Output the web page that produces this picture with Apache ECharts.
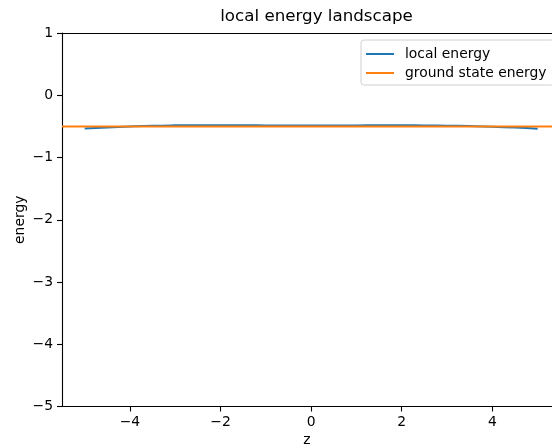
<!DOCTYPE html>
<html>
<head>
<meta charset="utf-8">
<script src="https://cdn.jsdelivr.net/npm/echarts@6/dist/echarts.min.js"></script>
<style>
  html, body { margin: 0; padding: 0; background: #fff; }
  #chart { width: 552px; height: 448px; }
</style>
</head>
<body>
<div id="chart"></div>
<script>
// Positions along z where the local energy was sampled
const zValues = [-5, -4.5, -4, -3.5, -3, -2.5, -2, -1.5, -1, -0.5, 0, 0.5, 1, 1.5, 2, 2.5, 3, 3.5, 4, 4.5, 5];
// Local energy at each z
const localEnergy = [-0.535, -0.52, -0.503, -0.49, -0.483, -0.48, -0.48, -0.482, -0.485, -0.487, -0.487, -0.486, -0.484, -0.482, -0.482, -0.484, -0.488, -0.495, -0.505, -0.52, -0.54];
// Ground state energy, constant across the axis
const groundZ = [-5.5, 5.5];
const groundEnergy = -0.5;
// Tick values
const xTicks = [-4, -2, 0, 2, 4];

const fmt = v => (v < 0 ? '\u2212' + Math.abs(v) : String(v));
const font = 'DejaVu Sans';
const spine = { color: '#000', width: 1.1 };

const chart = echarts.init(document.getElementById('chart'), null, { renderer: 'canvas' });
chart.setOption({
  animation: false,
  backgroundColor: '#fff',
  textStyle: { fontFamily: font },
  title: {
    text: 'local energy landscape',
    left: 311.5,
    top: 3,
    textAlign: 'center',
    textStyle: { fontFamily: font, fontSize: 16.7, fontWeight: 'normal', color: '#000' }
  },
  legend: {
    left: 361,
    top: 40,
    orient: 'vertical',
    itemWidth: 28,
    itemHeight: 2,
    itemGap: 5,
    padding: [7, 8, 5, 5],
    borderColor: '#d0d0d0',
    borderWidth: 1,
    borderRadius: 3,
    backgroundColor: 'rgba(255,255,255,0.8)',
    icon: 'rect',
    textStyle: { fontFamily: font, fontSize: 13.9, color: '#000', padding: [0, 0, 0, 6] },
    data: ['local energy', 'ground state energy']
  },
  grid: { left: 62, right: 0, top: 33, bottom: 41.5, show: false, outerBoundsMode: 'none', containLabel: false },
  xAxis: [
    {
      type: 'value',
      min: -5.5, max: 5.317,
      name: 'z',
      nameLocation: 'middle',
      nameGap: 27,
      nameMoveOverlap: false,
      nameTextStyle: { fontFamily: font, fontSize: 13.9, color: '#000' },
      splitLine: { show: false },
      axisLine: { show: true, onZero: false, lineStyle: spine },
      axisTick: { show: true, length: 5, customValues: xTicks, lineStyle: spine },
      axisLabel: { customValues: xTicks, formatter: fmt, fontFamily: font, fontSize: 13.9, color: '#000', margin: 9 }
    },
    {
      // top spine
      type: 'value',
      position: 'top',
      min: -5.5, max: 5.317,
      splitLine: { show: false },
      axisLine: { show: true, onZero: false, lineStyle: spine },
      axisTick: { show: false },
      axisLabel: { show: false }
    }
  ],
  yAxis: {
    type: 'value',
    min: -5, max: 1, interval: 1,
    name: 'energy',
    nameLocation: 'middle',
    nameGap: 35,
    nameMoveOverlap: false,
    nameRotate: 90,
    nameTextStyle: { fontFamily: font, fontSize: 13.9, color: '#000' },
    splitLine: { show: false },
    axisLine: { show: true, onZero: false, lineStyle: spine },
    axisTick: { show: true, length: 5, lineStyle: spine },
    axisLabel: { formatter: fmt, fontFamily: font, fontSize: 13.9, color: '#000', margin: 9 }
  },
  series: [
    {
      name: 'local energy',
      type: 'line',
      data: zValues.map((z, i) => [z, localEnergy[i]]),
      smooth: true,
      showSymbol: false,
      lineStyle: { color: '#1f77b4', width: 2 },
      itemStyle: { color: '#1f77b4' }
    },
    {
      name: 'ground state energy',
      type: 'line',
      data: groundZ.map(z => [z, groundEnergy]),
      showSymbol: false,
      lineStyle: { color: '#ff7f0e', width: 2 },
      itemStyle: { color: '#ff7f0e' }
    }
  ]
});
</script>
</body>
</html>
